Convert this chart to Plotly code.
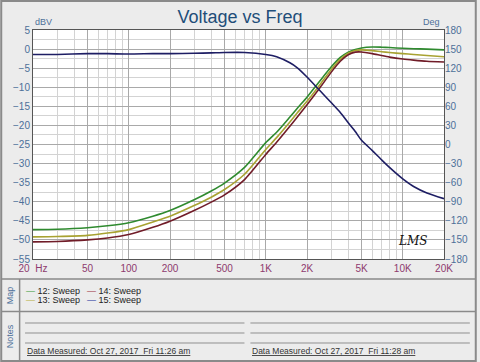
import plotly.graph_objects as go

# ---------------- data ----------------
freq_hz = [20, 30, 50, 70, 100, 150, 200, 300, 400, 500, 700, 1000, 1200, 1500, 1700,
           2000, 2500, 3000, 3500, 4000, 4500, 5000, 6000, 7000, 8000, 10000, 12000, 15000, 20000]

sweep12 = [-47.3, -47.2, -46.8, -46.3, -45.5, -43.8, -42.3, -39.5, -37.2, -35.1, -31.0, -24.5,
           -21.8, -17.8, -15.5, -12.6, -8.2, -4.7, -2.2, -0.8, -0.1, 0.3, 0.55, 0.5, 0.4, 0.2,
           0.1, 0.0, -0.2]
sweep13 = [-49.2, -49.1, -48.8, -48.2, -47.3, -45.3, -43.8, -41.0, -38.8, -36.8, -32.8, -26.3,
           -23.2, -19.1, -16.7, -13.7, -9.2, -5.4, -2.7, -1.1, -0.35, -0.2, -0.4, -0.7, -0.9,
           -1.2, -1.4, -1.7, -2.0]
sweep14 = [-50.5, -50.4, -50.0, -49.5, -48.6, -46.7, -45.1, -42.3, -40.1, -38.2, -34.2, -27.6,
           -24.4, -20.2, -17.8, -14.6, -10.0, -6.1, -3.2, -1.5, -0.8, -0.75, -1.2, -1.7, -2.1,
           -2.6, -2.9, -3.2, -3.4]
sweep15 = [-1.4, -1.4, -1.2, -1.2, -1.3, -1.2, -1.2, -1.1, -1.0, -0.9, -0.9, -1.4,
           -2.0, -3.6, -4.9, -7.3, -11.0, -14.0, -16.6, -19.3, -21.6, -23.9, -26.6, -29.0,
           -31.0, -34.0, -36.0, -37.7, -39.2]

series_names = ["12: Sweep", "13: Sweep", "14: Sweep", "15: Sweep"]
series_values = [sweep12, sweep13, sweep14, sweep15]
series_colors = ["#2f8a2f", "#a8a232", "#701c28", "#1e1e64"]
legend_colors = ["#3a9a3a", "#b8b040", "#a03040", "#2030a0"]

x_tick_vals = [20, 50, 100, 200, 500, 1000, 2000, 5000, 10000, 20000]
x_tick_text = ["20  Hz", "50", "100", "200", "500", "1K", "2K", "5K", "10K", "20K"]
minor_x = [m * d for d in (10, 100, 1000, 10000) for m in range(1, 10) if 20 <= m * d <= 20000]

note_texts = ["Data Measured: Oct 27, 2017  Fri 11:26 am",
              "Data Measured: Oct 27, 2017  Fri 11:28 am"]

# ---------------- geometry helpers (pixel -> paper) ----------------
L, R, T, B = 33, 33, 30, 103
W, H = 480, 362
PW, PH = W - L - R, H - T - B


def px(p):
    return (p - L) / PW


def py(p):
    return (H - B - p) / PH


FONT = "Liberation Sans, Arial, sans-serif"
AXBLUE = "#4d7099"
XMAROON = "#8e3a6e"

fig = go.Figure()
for name, vals, col in zip(series_names, series_values, series_colors):
    fig.add_trace(go.Scatter(x=freq_hz, y=vals, mode="lines", name=name,
                             line=dict(color=col, width=1.6, shape="spline", smoothing=0.6),
                             showlegend=False))
# invisible trace to anchor the right (degree) axis
fig.add_trace(go.Scatter(x=[20, 20000], y=[-180, 180], yaxis="y2", mode="lines",
                         line=dict(width=0), opacity=0, showlegend=False, hoverinfo="skip"))

gridmaj = "#a9a9a9"
gridmin = "#d3d3d3"

fig.update_layout(
    width=W, height=H,
    margin=dict(l=L, r=R, t=T, b=B),
    paper_bgcolor="#ececec",
    plot_bgcolor="#ffffff",
    font=dict(family=FONT, size=10, color=AXBLUE),
    title=dict(text="Voltage vs Freq", x=0.5, xanchor="center", y=1 - 17 / H, yanchor="middle",
               font=dict(family=FONT, size=18, color="#1f4e79")),
    xaxis=dict(type="log", range=[1.30103, 4.30103],
               tickmode="array", tickvals=x_tick_vals, ticktext=x_tick_text,
               tickfont=dict(color=XMAROON, size=10),
               showgrid=True, gridcolor=gridmaj, gridwidth=1,
               minor=dict(tickmode="array", tickvals=minor_x, showgrid=True,
                          gridcolor=gridmin, gridwidth=1, ticks=""),
               showline=True, linecolor="#555555", linewidth=1, mirror=True,
               ticks="", zeroline=False),
    yaxis=dict(range=[-55, 5], dtick=5, tick0=0,
               tickfont=dict(color=AXBLUE, size=10),
               showgrid=True, gridcolor=gridmaj, gridwidth=1,
               minor=dict(dtick=2.5, showgrid=True, gridcolor=gridmin, gridwidth=1, ticks=""),
               showline=True, linecolor="#555555", linewidth=1, mirror=True,
               ticks="", zeroline=False),
    yaxis2=dict(range=[-180, 180], dtick=30, tick0=0, overlaying="y", side="right",
                tickfont=dict(color=AXBLUE, size=10), showgrid=False, zeroline=False,
                ticks=""),
)

ann = []
ann.append(dict(text="dBV", x=px(44), y=py(22), xref="paper", yref="paper", showarrow=False,
                xanchor="center", yanchor="middle", font=dict(size=9, color=AXBLUE)))
ann.append(dict(text="Deg", x=px(434), y=py(22), xref="paper", yref="paper", showarrow=False,
                xanchor="center", yanchor="middle", font=dict(size=9, color=AXBLUE)))
ann.append(dict(text="<i>LMS</i>", x=px(432), y=py(250), xref="paper", yref="paper",
                showarrow=False, font=dict(size=12, color="#111111", family="DejaVu Serif")))
ann.append(dict(text="Map", x=px(10), y=py(295), xref="paper", yref="paper", showarrow=False,
                xanchor="center", yanchor="middle",
                textangle=-90, font=dict(size=9, color=AXBLUE)))
ann.append(dict(text="Notes", x=px(10), y=py(336), xref="paper", yref="paper", showarrow=False,
                xanchor="center", yanchor="middle",
                textangle=-90, font=dict(size=9, color=AXBLUE)))

# legend in the Map panel (two columns)
for i, (name, col) in enumerate(zip(series_names, legend_colors)):
    cx = 24 if i < 2 else 85
    cy = 291 if i % 2 == 0 else 300
    ann.append(dict(text=f"<span style='color:{col}'>\u2014</span> <span style='color:#222222'>{name}</span>",
                    x=px(cx), y=py(cy), xref="paper", yref="paper", xanchor="left",
                    yanchor="middle", showarrow=False, font=dict(size=9, family=FONT)))

# notes
for j, txt in enumerate(note_texts):
    x0 = 25 if j == 0 else 252
    ann.append(dict(text=f"<u>{txt}</u>", x=px(x0), y=py(351), xref="paper", yref="paper",
                    xanchor="left", yanchor="middle", showarrow=False,
                    font=dict(size=8.5, color="#333333", family=FONT)))

shapes = []
# outer frame
shapes.append(dict(type="rect", xref="paper", yref="paper", x0=px(1), x1=px(479), y0=py(1), y1=py(361),
                   line=dict(color="#8a8a8a", width=2)))
# panel separators
for yy in (279, 311.5):
    shapes.append(dict(type="line", xref="paper", yref="paper", x0=px(1), x1=px(479), y0=py(yy), y1=py(yy),
                       line=dict(color="#8a8a8a", width=1.5)))
shapes.append(dict(type="line", xref="paper", yref="paper", x0=px(19.5), x1=px(19.5), y0=py(279), y1=py(361),
                   line=dict(color="#8a8a8a", width=1.5)))
# note ruling lines
for (xa, xb) in ((25, 246), (252, 473)):
    for yy in (323, 333, 343):
        shapes.append(dict(type="line", xref="paper", yref="paper", x0=px(xa), x1=px(xb), y0=py(yy), y1=py(yy),
                           line=dict(color="#8f8f8f", width=1)))

fig.update_layout(annotations=ann, shapes=shapes)
fig.write_html("out.html",
               config={"displayModeBar": False},
               post_script="document.body.style.margin='0';document.body.style.overflow='hidden';")
